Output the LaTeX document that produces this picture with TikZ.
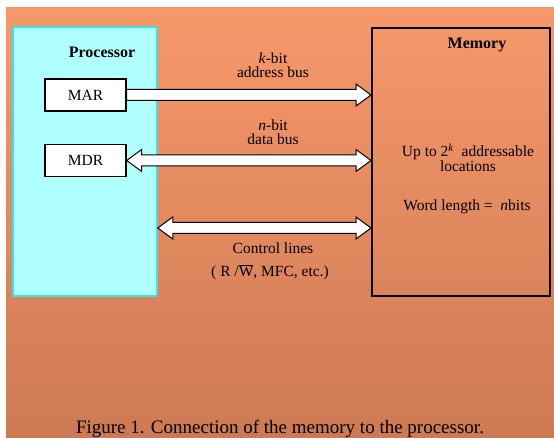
\documentclass[tikz,border=0pt]{standalone}
\usepackage{fontspec}
\setmainfont{Liberation Serif}
\usetikzlibrary{calc}
\definecolor{bgtop}{RGB}{247,152,106}
\definecolor{bgbot}{RGB}{205,122,84}
\definecolor{cyan1}{RGB}{175,255,255}
\definecolor{cyan2}{RGB}{60,225,225}

\begin{document}
\begin{tikzpicture}[x=1pt, y=-1pt, line width=1pt, font=\fontsize{15.5}{14}\selectfont,
  regbox/.style={draw, fill=white, line width=1.4pt, minimum width=81pt, minimum height=32pt}]
  \useasboundingbox (0,0) rectangle (554,438);
  \shade[top color=bgtop, bottom color=bgbot] (6,8) rectangle (554,437);

  \node[draw=cyan2, fill=cyan1, line width=1.5pt, minimum width=144pt, minimum height=269pt] (proc) at (85,161.5) {};
  \node[draw, line width=2pt, minimum width=178pt, minimum height=268pt] (mem) at (461,162) {};

  \node[font=\fontsize{16}{18}\selectfont\bfseries] (ptitle) at (102,52) {Processor};
  \node[font=\fontsize{16}{18}\selectfont\bfseries] (mtitle) at (477,45) {Memory};

  \node[regbox] (mar) at (85.5,95) {MAR};
  \node[regbox] (mdr) at (85.5,160.5) {MDR};

  \coordinate (marm) at (mar.east -| mem.west);
  \coordinate (mdrm) at (mdr.east -| mem.west);
  \coordinate (ctlp) at ($(proc.east)+(0,66.5)$);
  \coordinate (ctlm) at (ctlp -| mem.west);

  % address bus, one way
  \draw[fill=white] ($(mar.east)+(0,-5.5)$) -- ($(marm)+(-15,-5.5)$) -- ($(marm)+(-15,-11)$) -- (marm)
    -- ($(marm)+(-15,11)$) -- ($(marm)+(-15,5.5)$) -- ($(mar.east)+(0,5.5)$) -- cycle;
  % data bus and control lines, both ways
  \foreach \from/\to in {mdr.east/mdrm, ctlp/ctlm}
   \draw[fill=white] (\from) -- ($(\from)+(15,-11)$) -- ($(\from)+(15,-5.5)$) -- ($(\to)+(-15,-5.5)$)
    -- ($(\to)+(-15,-11)$) -- (\to) -- ($(\to)+(-15,11)$) -- ($(\to)+(-15,5.5)$)
    -- ($(\from)+(15,5.5)$) -- ($(\from)+(15,11)$) -- cycle;
  \node[regbox] at (mar) {MAR};

  \node[align=center] (abus) at (273,65.5) {\textit{k}-bit\\address bus};
  \node[align=center] (dbus) at (273,132) {\textit{n}-bit\\data bus};
  \node (ctl1) at (273,248) {Control lines};
  \node (ctl2) at (270,272) {( R /$\overline{\hbox{W}}$, MFC, etc.)};

  \node[align=center] (size) at (468,157.5) {Up to 2\textsuperscript{\textit{k}} \ addressable\\locations};
  \node (wlen) at (467,207) {Word length = \ \textit{n}bits};

  \node[font=\fontsize{19}{22}\selectfont, anchor=base] (cap) at (280,433) {Figure 1. Connection of the memory to the processor.};
\end{tikzpicture}
\end{document}
